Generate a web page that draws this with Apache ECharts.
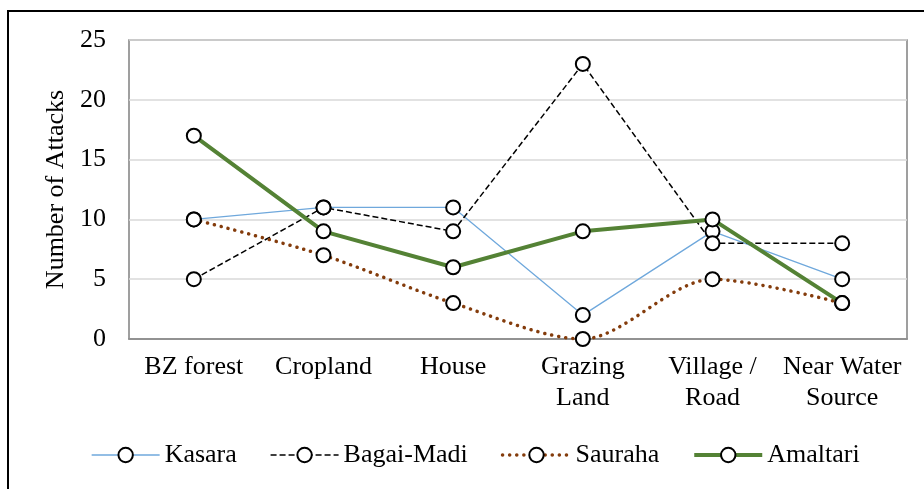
<!DOCTYPE html>
<html>
<head>
<meta charset="utf-8">
<script src="https://cdn.jsdelivr.net/npm/echarts@6/dist/echarts.min.js"></script>
<style>
  html, body { margin: 0; padding: 0; background: #fff; }
  #chart { width: 924px; height: 489px; }
</style>
</head>
<body>
<div id="chart"></div>
<script>
  // 数据
  var categories = ['BZ forest', 'Cropland', 'House', 'Grazing\nLand', 'Village /\nRoad', 'Near Water\nSource'];
  var kasara = [10, 11, 11, 2, 9, 5];
  var bagaiMadi = [5, 11, 9, 23, 8, 8];
  var sauraha = [10, 7, 3, 0, 5, 3];
  var amaltari = [17, 9, 6, 9, 10, 3];
  var yTicks = { min: 0, max: 25, interval: 5 };

  var font = '"Liberation Serif", "Times New Roman", serif';

  // 线型
  var styles = {
    'Kasara': { color: '#6fa8dc', width: 1.3, type: 'solid', cap: 'butt' },
    'Bagai-Madi': { color: '#000', width: 1.5, type: [6, 3], cap: 'butt' },
    'Sauraha': { color: '#843c0c', width: 3.5, type: [0.1, 7], cap: 'round' },
    'Amaltari': { color: '#548235', width: 4, type: 'solid', cap: 'butt' }
  };

  function makeSeries(name, data, smooth) {
    return {
      name: name,
      type: 'line',
      data: data,
      smooth: smooth || false,
      symbol: 'circle',
      symbolSize: 14,
      itemStyle: { color: '#fff', borderColor: '#000', borderWidth: 2 },
      lineStyle: styles[name],
      emphasis: { disabled: true },
      z: 2
    };
  }

  var legendNames = ['Kasara', 'Bagai-Madi', 'Sauraha', 'Amaltari'];

  var chart = echarts.init(document.getElementById('chart'));
  chart.setOption({
    animation: false,
    textStyle: { fontFamily: font },
    graphic: [{
      type: 'rect',
      shape: { x: 8, y: 11, width: 940, height: 500 },
      style: { fill: 'none', stroke: '#000', lineWidth: 2 },
      silent: true
    }],
    grid: {
      left: 129, right: 17, top: 40, bottom: 150,
      show: true, borderColor: '#808080', borderWidth: 1.5
    },
    legend: {
      left: 86,
      top: 437,
      itemWidth: 68,
      itemHeight: 18,
      itemGap: 33,
      textStyle: { fontFamily: font, fontSize: 26, color: '#000' },
      data: legendNames.map(function (n) {
        return {
          name: n,
          lineStyle: styles[n],
          itemStyle: { color: '#fff', borderColor: '#000', borderWidth: 2 }
        };
      })
    },
    xAxis: {
      type: 'category',
      data: categories,
      boundaryGap: true,
      axisLine: { show: true, lineStyle: { color: '#808080', width: 1.5 } },
      axisTick: { show: false },
      axisLabel: {
        color: '#000', fontFamily: font, fontSize: 26, lineHeight: 31,
        margin: 13, interval: 0
      }
    },
    yAxis: {
      type: 'value',
      min: yTicks.min,
      max: yTicks.max,
      interval: yTicks.interval,
      name: 'Number of Attacks',
      nameLocation: 'middle',
      nameGap: 57,
      nameTextStyle: { color: '#000', fontFamily: font, fontSize: 26 },
      axisLine: { show: false },
      axisTick: { show: false },
      axisLabel: { color: '#000', fontFamily: font, fontSize: 26, margin: 23 },
      splitLine: { lineStyle: { color: '#d9d9d9', width: 1.5 } }
    },
    series: [
      makeSeries('Kasara', kasara),
      makeSeries('Bagai-Madi', bagaiMadi),
      makeSeries('Sauraha', sauraha, 0.3),
      makeSeries('Amaltari', amaltari)
    ]
  });
</script>
</body>
</html>
